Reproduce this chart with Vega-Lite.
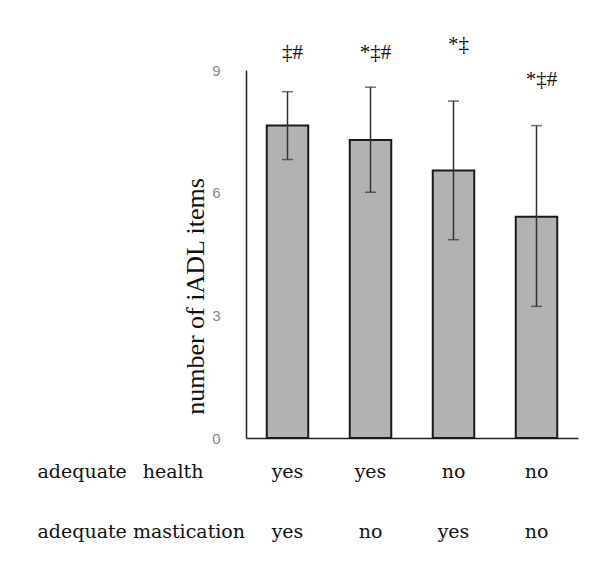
{
  "$schema": "https://vega.github.io/schema/vega-lite/v6.json",
  "autosize": {"type": "none"},
  "padding": {"left": 246, "top": 70, "right": 24, "bottom": 126},
  "width": 332,
  "height": 368,
  "background": "white",
  "config": {
    "view": {"stroke": null},
    "axis": {"grid": false, "ticks": false}
  },
  "data": {
    "values": [
      {"group": "yes|yes", "mean": 7.64, "lo": 6.81, "hi": 8.47, "sig": "‡#", "sigY": 9.42},
      {"group": "yes|no", "mean": 7.29, "lo": 6.01, "hi": 8.58, "sig": "*‡#", "sigY": 9.42},
      {"group": "no|yes", "mean": 6.54, "lo": 4.85, "hi": 8.24, "sig": "*‡", "sigY": 9.6},
      {"group": "no|no", "mean": 5.41, "lo": 3.22, "hi": 7.64, "sig": "*‡#", "sigY": 8.76}
    ]
  },
  "encoding": {
    "x": {
      "field": "group",
      "type": "nominal",
      "sort": null,
      "scale": {"type": "band", "paddingInner": 0.5, "paddingOuter": 0.25},
      "axis": {
        "title": ["adequate\u00a0\u00a0\u2009health", "adequate\u00a0mastication"],
        "titleX": -209,
        "titleY": 24,
        "titleAlign": "left",
        "titleBaseline": "top",
        "titleAngle": 0,
        "titleLineHeight": 60,
        "titleFont": "DejaVu Serif",
        "titleFontSize": 19,
        "titleFontWeight": "normal",
        "titleColor": "#111111",
        "labelExpr": "split(datum.label, '|')",
        "labelLineHeight": 60,
        "labelAngle": 0,
        "labelBaseline": "top",
        "labelPadding": 24,
        "labelFont": "DejaVu Serif",
        "labelFontSize": 19,
        "labelColor": "#111111",
        "domainColor": "#222222",
        "domainWidth": 1.5
      }
    }
  },
  "layer": [
    {
      "mark": {"type": "bar", "fill": "#b2b2b2", "stroke": "#1a1a1a", "strokeWidth": 2},
      "encoding": {
        "y": {
          "field": "mean",
          "type": "quantitative",
          "scale": {"domain": [0, 9], "nice": false},
          "axis": {
            "values": [0, 3, 6, 9],
            "title": "number of iADL items",
            "titleFont": "Liberation Serif",
            "titleFontSize": 26,
            "titleFontWeight": "normal",
            "titleColor": "#111111",
            "titleAngle": -90,
            "titleX": -51,
            "titleY": 226,
            "titleAlign": "center",
            "titleBaseline": "middle",
            "labelFont": "Liberation Sans",
            "labelFontSize": 15,
            "labelColor": "#888888",
            "labelPadding": 26,
            "domainColor": "#222222",
            "domainWidth": 1.5
          }
        }
      }
    },
    {
      "mark": {"type": "rule", "color": "#333333", "strokeWidth": 1.5},
      "encoding": {
        "y": {"field": "lo", "type": "quantitative"},
        "y2": {"field": "hi"}
      }
    },
    {
      "mark": {"type": "tick", "color": "#333333", "size": 11, "thickness": 1.5},
      "encoding": {"y": {"field": "lo", "type": "quantitative"}}
    },
    {
      "mark": {"type": "tick", "color": "#333333", "size": 11, "thickness": 1.5},
      "encoding": {"y": {"field": "hi", "type": "quantitative"}}
    },
    {
      "mark": {"type": "text", "font": "Liberation Serif", "fontSize": 21, "color": "#111111", "dx": 5, "baseline": "middle"},
      "encoding": {
        "y": {"field": "sigY", "type": "quantitative"},
        "text": {"field": "sig"}
      }
    }
  ]
}
